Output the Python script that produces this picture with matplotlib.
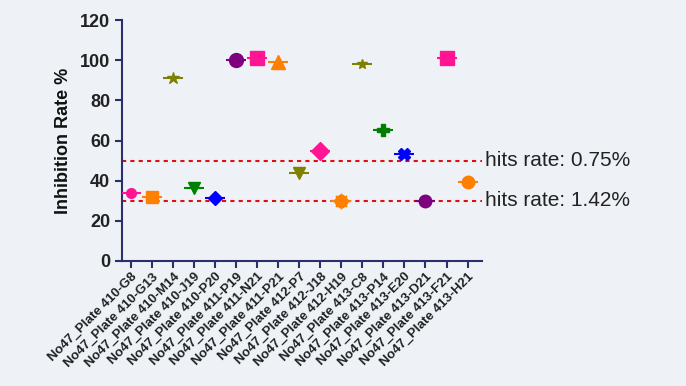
import matplotlib.pyplot as plt
import numpy as np

plt.rcParams['font.family'] = ['Liberation Sans', 'DejaVu Sans']

samples = ["No47_Plate 410-G8", "No47_Plate 410-G13", "No47_Plate 410-M14", "No47_Plate 410-J19",
           "No47_Plate 410-P20", "No47_Plate 411-P19", "No47_Plate 411-N21", "No47_Plate 411-P21",
           "No47_Plate 412-P7", "No47_Plate 412-J18", "No47_Plate 412-H19", "No47_Plate 413-C8",
           "No47_Plate 413-P14", "No47_Plate 413-E20", "No47_Plate 413-D21", "No47_Plate 413-F21",
           "No47_Plate 413-H21"]
inhibition = [34, 32, 91, 36.5, 31.5, 100, 101, 99, 44, 55, 30, 98, 65, 53.5, 30, 101, 39.5]
markers = ['o', 's', '*', 'v', 'D', 'o', 's', '^', 'v', 'D', '8', '*', 'P', 'X', 'o', 's', 'o']
colors = ['#ff1493', '#ff7f00', '#808000', '#007f00', '#0000ff', '#7f007f', '#ff1493', '#ff7f00',
          '#808000', '#ff1493', '#ff7f00', '#808000', '#007f00', '#0000ff', '#7f007f', '#ff1493', '#ff7f00']
sizes = [7, 8, 9, 9, 7, 10, 10, 10, 9, 9, 9, 7, 9, 8, 9, 10, 9]

hit_levels = [50, 30]
hit_labels = ["hits rate: 0.75%", "hits rate: 1.42%"]

bg = '#eef2f7'
navy = '#2b2f6b'

fig = plt.figure(figsize=(6.86, 3.86), dpi=100, facecolor=bg)
ax = fig.add_axes([0.178, 0.324, 0.525, 0.624], facecolor=bg)

x = np.arange(len(samples))
for i in range(len(samples)):
    # flat error cap behind each point
    ax.plot(x[i], inhibition[i], marker='_', markersize=14, color=colors[i], mew=1.5, zorder=3)
    ax.plot(x[i], inhibition[i], marker=markers[i], markersize=sizes[i], color=colors[i],
            linestyle='none', zorder=4)
    if markers[i] == '8':
        # spiky look of the star-burst marker
        ax.plot(x[i], inhibition[i], marker=(8, 1, 0), markersize=11, color=colors[i], zorder=4)

for lvl, lab in zip(hit_levels, hit_labels):
    ax.axhline(lvl, color='#e01010', linestyle=(0, (2, 2)), linewidth=1.5, zorder=2, clip_on=False)
    ax.text(16.85, lvl, lab, fontsize=15, color='#222222', va='center', ha='left')

ax.set_xlim(-0.43, 16.7)
ax.set_ylim(0, 120)
ax.set_yticks(range(0, 121, 20))
ax.set_xticks(x)
ax.set_xticklabels(samples, rotation=45, ha='right', rotation_mode='anchor', fontsize=9.5,
                   fontweight='bold', color='#222222')
for lab in ax.get_yticklabels():
    lab.set_fontweight('bold')
    lab.set_fontsize(13)
    lab.set_color('#222222')
ax.set_ylabel('Inhibition Rate %', fontsize=13, fontweight='bold', color='#111111', labelpad=6)

for side in ['top', 'right']:
    ax.spines[side].set_visible(False)
for side in ['left', 'bottom']:
    ax.spines[side].set_color(navy)
    ax.spines[side].set_linewidth(1.5)
ax.tick_params(axis='both', color=navy, width=1.5, length=5)
ax.tick_params(axis='x', pad=2)

plt.savefig('out.png', dpi=100, facecolor=bg)
